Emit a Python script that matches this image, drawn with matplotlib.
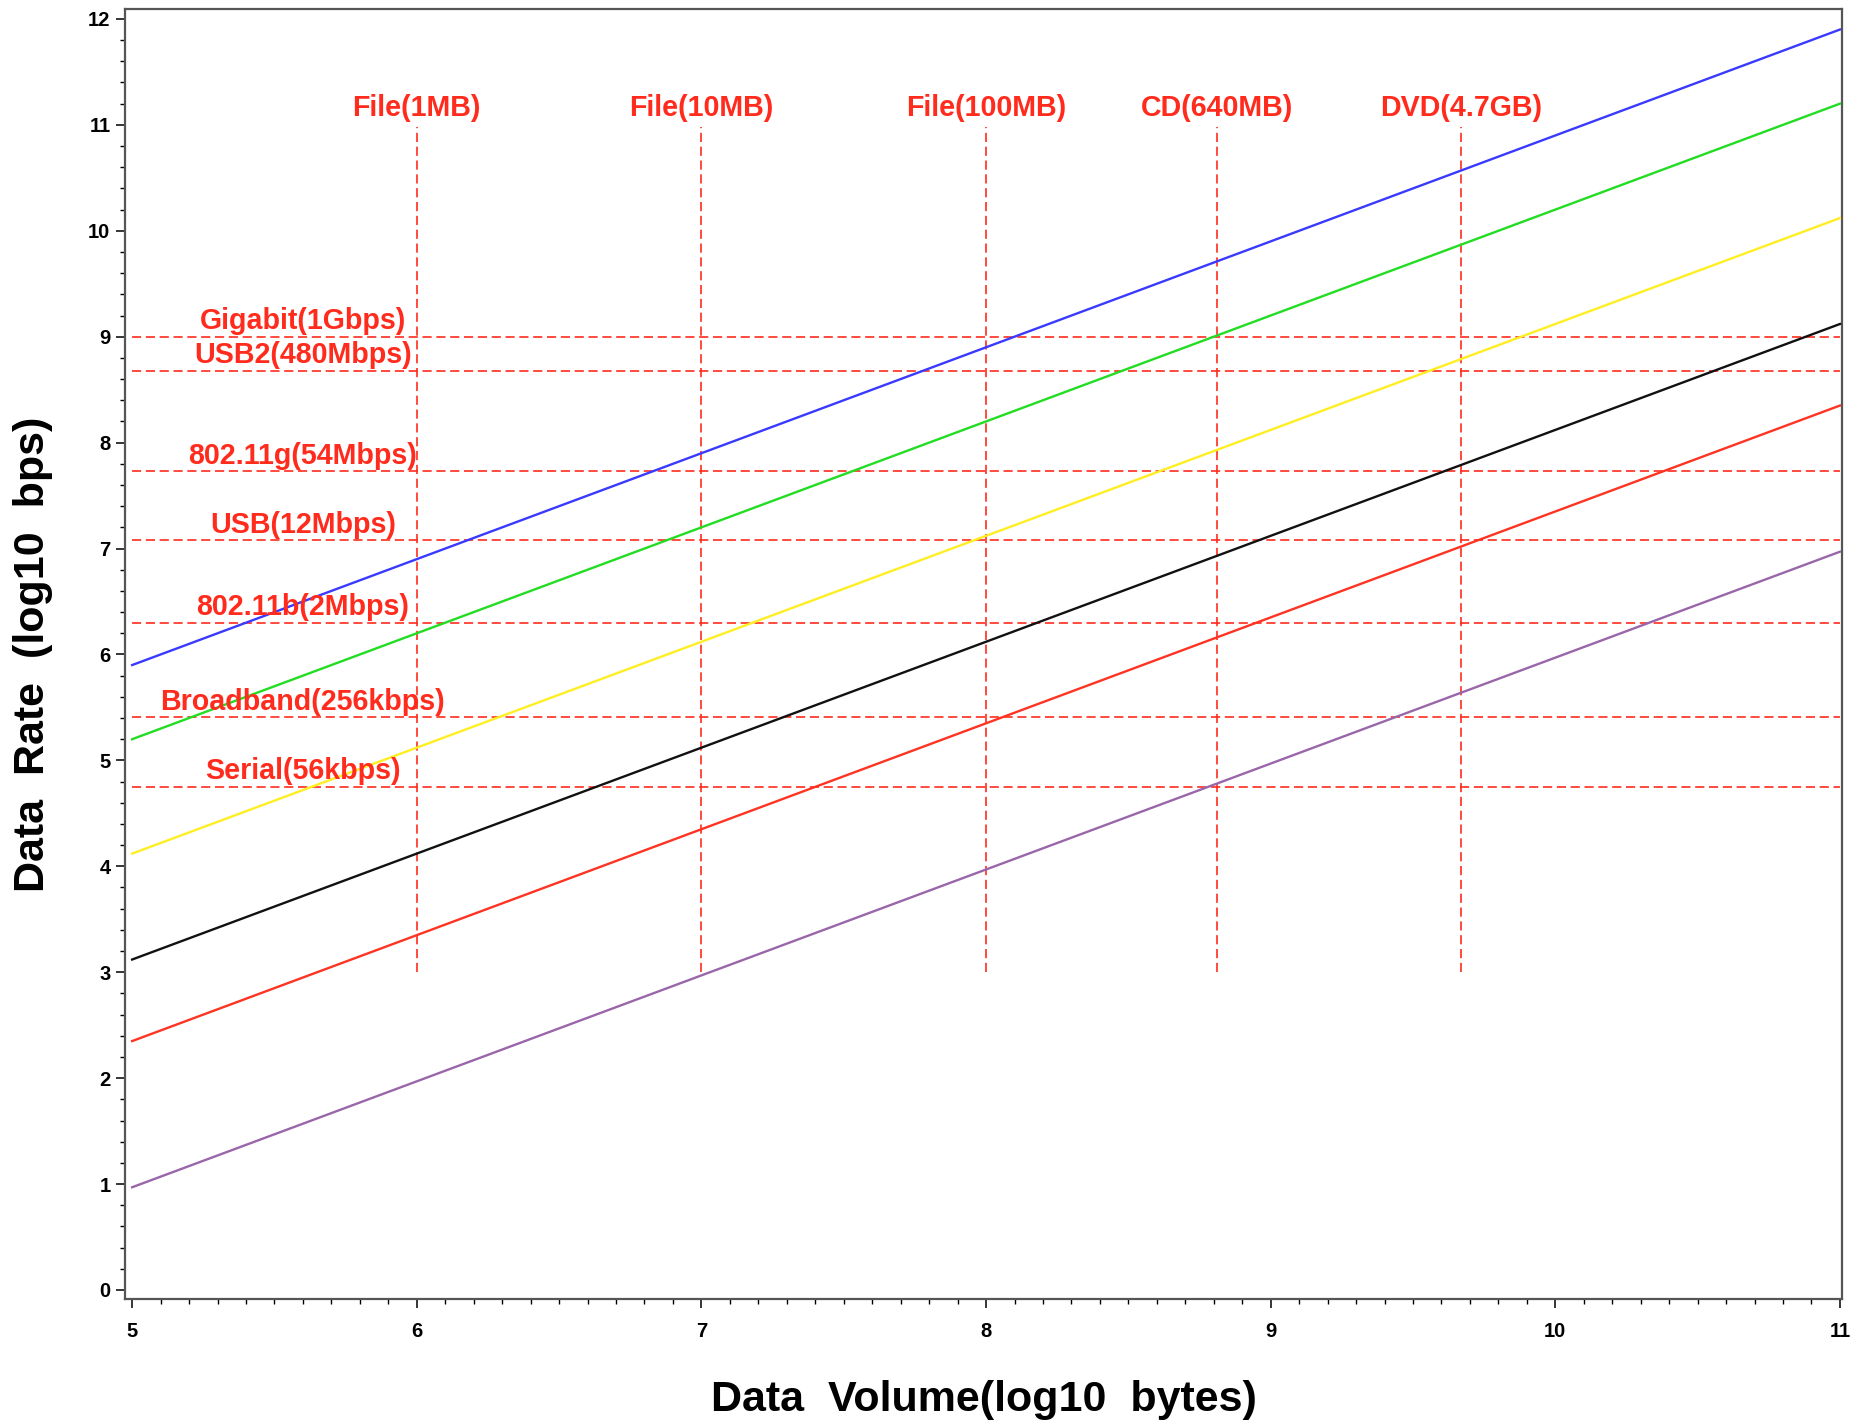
import matplotlib
matplotlib.use("Agg")
import matplotlib.pyplot as plt
from matplotlib.ticker import MultipleLocator

plt.rcParams['font.family'] = ['Liberation Sans', 'DejaVu Sans']
plt.rcParams['font.weight'] = 'bold'

# transfer-time lines: log10 rate at volume 10^5 and 10^11 bytes
volume_ends = [5, 11]
rate_at_5 = [5.90, 5.20, 4.12, 3.12, 2.35, 0.97]
rate_at_11 = [11.90, 11.20, 10.12, 9.12, 8.35, 6.97]
line_colors = ["#3a3aff", "#22dd22", "#ffee22", "#111111", "#ff3322", "#9a66aa"]

# link speeds (log10 bps)
link_names = ["Gigabit(1Gbps)", "USB2(480Mbps)", "802.11g(54Mbps)", "USB(12Mbps)",
              "802.11b(2Mbps)", "Broadband(256kbps)", "Serial(56kbps)"]
link_rates = [9.00, 8.68, 7.73, 7.08, 6.30, 5.41, 4.75]

# media sizes (log10 bytes)
media_names = ["File(1MB)", "File(10MB)", "File(100MB)", "CD(640MB)", "DVD(4.7GB)"]
media_sizes = [6.00, 7.00, 8.00, 8.81, 9.67]

red = "#ff2b1c"
dash = (0, (5.5, 2.8))

fig = plt.figure(figsize=(18.66, 14.27), dpi=100)
ax = fig.add_axes([0.067, 0.0897, 0.9201, 0.904])

for y0, y1, c in zip(rate_at_5, rate_at_11, line_colors):
    ax.plot(volume_ends, [y0, y1], color=c, lw=1.7, zorder=3)

# horizontal link-speed lines
for name, r in zip(link_names, link_rates):
    ax.plot([5, 11], [r, r], color=red, lw=1.2, linestyle=dash, zorder=2)
    ax.text(5.6, r + 0.07, name, color=red, fontsize=20.6, fontweight='bold',
            ha='center', va='baseline', zorder=4)

# vertical media-size lines
for name, s in zip(media_names, media_sizes):
    ax.plot([s, s], [3, 10.98], color=red, lw=1.2, linestyle=dash, zorder=2)
    ax.text(s, 11.08, name, color=red, fontsize=20.6, fontweight='bold',
            ha='center', va='baseline', zorder=4)

ax.set_xlim(4.975, 11.007)
ax.set_ylim(-0.085, 12.094)
ax.xaxis.set_major_locator(MultipleLocator(1))
ax.xaxis.set_minor_locator(MultipleLocator(0.1))
ax.yaxis.set_major_locator(MultipleLocator(1))
ax.yaxis.set_minor_locator(MultipleLocator(0.2))

for sp in ax.spines.values():
    sp.set_color("#555555")
    sp.set_linewidth(1.6)

ax.tick_params(which='major', direction='out', length=6.5, width=1.1, labelsize=14.5)
ax.tick_params(axis='x', which='major', pad=10)
ax.tick_params(axis='y', which='major', pad=4)
ax.tick_params(which='minor', direction='out', length=3.5, width=1.0)
ax.tick_params(axis='x', which='both', top=False)
ax.tick_params(axis='y', which='both', right=False)
for lab in ax.get_xticklabels() + ax.get_yticklabels():
    lab.set_fontweight('bold')

ax.set_xlabel("Data  Volume(log10  bytes)", fontsize=31, fontweight='bold', va='center')
ax.xaxis.set_label_coords(0.5, -0.078)
ax.set_ylabel("Data  Rate  (log10  bps)", fontsize=31, fontweight='bold', va='center')
ax.yaxis.set_label_coords(-0.0536, 0.5)

plt.savefig("out.png", dpi=100)
